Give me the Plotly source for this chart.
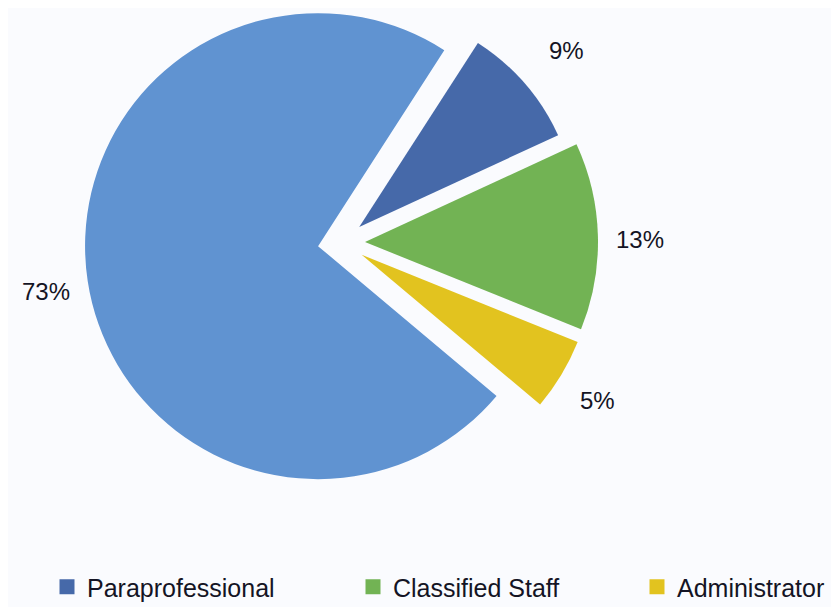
import math
import plotly.graph_objects as go

# ---- data ----
labels = ["Paraprofessional", "Classified Staff", "Administrator", "Other"]
values = [9, 13, 5, 73]
colors = ["#4669A9", "#72B354", "#E2C31F", "#6093D1"]
legend_labels = ["Paraprofessional", "Classified Staff", "Administrator"]
legend_colors = ["#4669A9", "#72B354", "#E2C31F"]

# ---- layout constants (figure pixels; page body has an 8px margin) ----
W, H = 860, 640
BG = "#FAFBFE"
TXT = "#141424"
CX, CY = 333.4, 234.6      # pie centre
R = 233                    # pie radius
EXPLODE = 23.6             # explosion distance of every slice
LABEL_GAP = 42             # label centre distance beyond the rim
START = 32.8               # start angle (deg clockwise from 12 o'clock)
legend_x = [39, 345, 629]
legend_y = 579

fig = go.Figure()
total = sum(values)
transparent = "rgba(0,0,0,0)"
ang = START
annotations = []
for k, v in enumerate(values):
    span = 360 * v / total
    mid = math.radians(ang + span / 2)
    ang += span
    dx, dy = math.sin(mid), -math.cos(mid)
    cx, cy = CX + EXPLODE * dx, CY + EXPLODE * dy
    r = min(R, cx, cy, W - cx, H - cy)
    fig.add_trace(go.Pie(
        labels=labels, values=values, sort=False, direction="clockwise",
        rotation=START,
        marker=dict(colors=[colors[i] if i == k else transparent for i in range(len(values))],
                    line=dict(width=0)),
        textinfo="none", showlegend=False, hoverinfo="label+percent",
        domain=dict(x=[(cx - r) / W, (cx + r) / W],
                    y=[1 - (cy + r) / H, 1 - (cy - r) / H]),
    ))
    lx, ly = cx + (R + LABEL_GAP) * dx, cy + (R + LABEL_GAP) * dy
    annotations.append(dict(
        text=f"{round(100 * v / total)}%", x=lx / W, y=1 - ly / H, yshift=-4,
        xref="paper", yref="paper", xanchor="center", yanchor="middle",
        showarrow=False, font=dict(family="Liberation Sans", size=24, color=TXT)))

legend_ids = ["legend", "legend2", "legend3"]
for lab, col, lid in zip(legend_labels, legend_colors, legend_ids):
    fig.add_trace(go.Scatter(x=[None], y=[None], mode="markers", name=lab, legend=lid,
                             marker=dict(symbol="square", size=15, color=col)))

legend_common = dict(orientation="h", xanchor="left", yanchor="middle",
                     font=dict(family="Liberation Sans", size=25, color=TXT),
                     bgcolor="rgba(0,0,0,0)", borderwidth=0)
layout_legends = {}
for lid, lxp in zip(legend_ids, legend_x):
    layout_legends[lid] = dict(x=lxp / W, y=1 - legend_y / H, **legend_common)

fig.update_layout(
    width=W, height=H, margin=dict(l=0, r=0, t=0, b=0),
    paper_bgcolor=BG, plot_bgcolor=BG,
    xaxis=dict(visible=False), yaxis=dict(visible=False),
    annotations=annotations,
    **layout_legends,
)
fig.write_html("out.html")
